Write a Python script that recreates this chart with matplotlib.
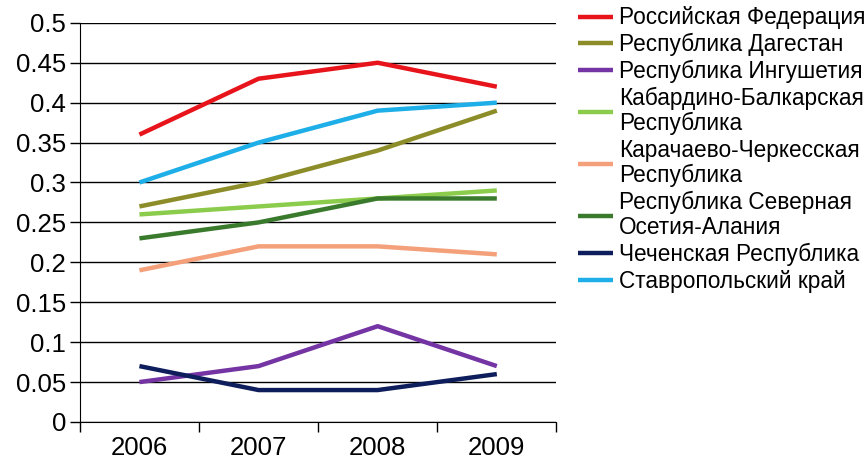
import matplotlib

matplotlib.use("Agg")
import matplotlib.pyplot as plt

plt.rcParams["font.family"] = ["Liberation Sans", "DejaVu Sans"]

years = ["2006", "2007", "2008", "2009"]
labels = [
    "Российская Федерация",
    "Республика Дагестан",
    "Республика Ингушетия",
    "Кабардино-Балкарская\nРеспублика",
    "Карачаево-Черкесская\nРеспублика",
    "Республика Северная\nОсетия-Алания",
    "Чеченская Республика",
    "Ставропольский край",
]
russia = [0.36, 0.43, 0.45, 0.42]
dagestan = [0.27, 0.30, 0.34, 0.39]
ingushetia = [0.05, 0.07, 0.12, 0.07]
kbr = [0.26, 0.27, 0.28, 0.29]
kchr = [0.19, 0.22, 0.22, 0.21]
north_ossetia = [0.23, 0.25, 0.28, 0.28]
chechnya = [0.07, 0.04, 0.04, 0.06]
stavropol = [0.30, 0.35, 0.39, 0.40]
yticks = [0, 0.05, 0.1, 0.15, 0.2, 0.25, 0.3, 0.35, 0.4, 0.45, 0.5]
ytick_labels = ["0", "0.05", "0.1", "0.15", "0.2", "0.25", "0.3", "0.35", "0.4", "0.45", "0.5"]

series = [russia, dagestan, ingushetia, kbr, kchr, north_ossetia, chechnya, stavropol]
colors = ["#e8141b", "#8c8c28", "#7434a4", "#8ccc4c", "#f4a07a", "#3a7a2c", "#0e1e5c", "#1eaee8"]

fig = plt.figure(figsize=(8.68, 4.62), dpi=100)
ax = fig.add_axes([0.092, 0.0866, 0.549, 0.864])

xs = range(len(years))
for vals, lab, col in zip(series, labels, colors):
    ax.plot(xs, vals, color=col, lw=3.2, label=lab, solid_capstyle="butt")

ax.set_xlim(-0.5, 3.5)
ax.set_ylim(0, 0.5)
ax.set_yticks(yticks)
ax.set_yticklabels(ytick_labels, fontsize=18.5)
ax.set_xticks(list(xs))
ax.set_xticklabels(years, fontsize=18.5)
ax.tick_params(axis="x", length=0, pad=10)
ax.set_xticks([-0.5, 0.5, 1.5, 2.5, 3.5], minor=True)
ax.tick_params(axis="x", which="minor", length=7.5, width=1, direction="out")
ax.tick_params(axis="y", length=7, width=1, direction="out", pad=3)
ax.yaxis.grid(True, color="black", lw=1)
ax.set_axisbelow(True)
for s in ["top", "right"]:
    ax.spines[s].set_visible(False)
ax.spines["left"].set_color("black")
ax.spines["bottom"].set_color("black")

leg = fig.legend(
    loc="upper left",
    bbox_to_anchor=(0.666, 0.986),
    frameon=False,
    fontsize=16.3,
    handlelength=1.55,
    handletextpad=0.25,
    labelspacing=0.16,
    borderpad=0,
    borderaxespad=0,
)
for t in leg.get_texts():
    t.set_linespacing(1.12)

fig.savefig("out.png", dpi=100)
